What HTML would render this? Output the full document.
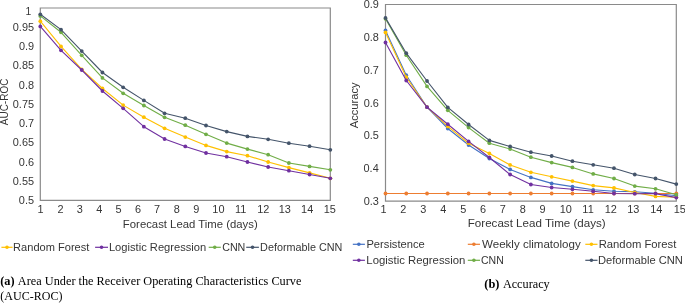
<!DOCTYPE html>
<html><head><meta charset="utf-8"><style>
html,body{margin:0;padding:0;background:#fff;}
body{width:685px;height:303px;overflow:hidden;position:relative;font-family:"Liberation Sans", sans-serif;}
svg{position:absolute;left:0;top:0;display:block;will-change:transform;}
</style></head><body>
<svg width="685" height="303" viewBox="0 0 685 303">
<path d="M40.3,8.0 H330.3 V200.4 H40.3 Z" fill="none" stroke="#8a8a8a" stroke-width="1.2"/>
<polyline points="40.30,21.20 61.01,46.40 81.73,69.30 102.44,88.50 123.16,105.10 143.87,117.20 164.59,128.30 185.30,137.10 206.01,145.40 226.73,151.60 247.44,155.70 268.16,162.00 288.87,167.60 309.59,172.90 330.30,178.30" fill="none" stroke="#FFC000" stroke-width="1.1" stroke-linejoin="round"/>
<circle cx="40.30" cy="21.20" r="1.9" fill="#FFC000"/>
<circle cx="61.01" cy="46.40" r="1.9" fill="#FFC000"/>
<circle cx="81.73" cy="69.30" r="1.9" fill="#FFC000"/>
<circle cx="102.44" cy="88.50" r="1.9" fill="#FFC000"/>
<circle cx="123.16" cy="105.10" r="1.9" fill="#FFC000"/>
<circle cx="143.87" cy="117.20" r="1.9" fill="#FFC000"/>
<circle cx="164.59" cy="128.30" r="1.9" fill="#FFC000"/>
<circle cx="185.30" cy="137.10" r="1.9" fill="#FFC000"/>
<circle cx="206.01" cy="145.40" r="1.9" fill="#FFC000"/>
<circle cx="226.73" cy="151.60" r="1.9" fill="#FFC000"/>
<circle cx="247.44" cy="155.70" r="1.9" fill="#FFC000"/>
<circle cx="268.16" cy="162.00" r="1.9" fill="#FFC000"/>
<circle cx="288.87" cy="167.60" r="1.9" fill="#FFC000"/>
<circle cx="309.59" cy="172.90" r="1.9" fill="#FFC000"/>
<circle cx="330.30" cy="178.30" r="1.9" fill="#FFC000"/>
<polyline points="40.30,26.40 61.01,50.30 81.73,70.00 102.44,91.00 123.16,108.30 143.87,126.70 164.59,139.00 185.30,146.40 206.01,153.00 226.73,156.70 247.44,162.00 268.16,167.00 288.87,170.70 309.59,174.50 330.30,178.30" fill="none" stroke="#7030A0" stroke-width="1.1" stroke-linejoin="round"/>
<circle cx="40.30" cy="26.40" r="1.9" fill="#7030A0"/>
<circle cx="61.01" cy="50.30" r="1.9" fill="#7030A0"/>
<circle cx="81.73" cy="70.00" r="1.9" fill="#7030A0"/>
<circle cx="102.44" cy="91.00" r="1.9" fill="#7030A0"/>
<circle cx="123.16" cy="108.30" r="1.9" fill="#7030A0"/>
<circle cx="143.87" cy="126.70" r="1.9" fill="#7030A0"/>
<circle cx="164.59" cy="139.00" r="1.9" fill="#7030A0"/>
<circle cx="185.30" cy="146.40" r="1.9" fill="#7030A0"/>
<circle cx="206.01" cy="153.00" r="1.9" fill="#7030A0"/>
<circle cx="226.73" cy="156.70" r="1.9" fill="#7030A0"/>
<circle cx="247.44" cy="162.00" r="1.9" fill="#7030A0"/>
<circle cx="268.16" cy="167.00" r="1.9" fill="#7030A0"/>
<circle cx="288.87" cy="170.70" r="1.9" fill="#7030A0"/>
<circle cx="309.59" cy="174.50" r="1.9" fill="#7030A0"/>
<circle cx="330.30" cy="178.30" r="1.9" fill="#7030A0"/>
<polyline points="40.30,15.90 61.01,32.30 81.73,55.30 102.44,77.90 123.16,93.30 143.87,105.50 164.59,117.30 185.30,125.20 206.01,134.30 226.73,143.10 247.44,149.10 268.16,154.70 288.87,163.00 309.59,166.40 330.30,169.80" fill="none" stroke="#70AD47" stroke-width="1.1" stroke-linejoin="round"/>
<circle cx="40.30" cy="15.90" r="1.9" fill="#70AD47"/>
<circle cx="61.01" cy="32.30" r="1.9" fill="#70AD47"/>
<circle cx="81.73" cy="55.30" r="1.9" fill="#70AD47"/>
<circle cx="102.44" cy="77.90" r="1.9" fill="#70AD47"/>
<circle cx="123.16" cy="93.30" r="1.9" fill="#70AD47"/>
<circle cx="143.87" cy="105.50" r="1.9" fill="#70AD47"/>
<circle cx="164.59" cy="117.30" r="1.9" fill="#70AD47"/>
<circle cx="185.30" cy="125.20" r="1.9" fill="#70AD47"/>
<circle cx="206.01" cy="134.30" r="1.9" fill="#70AD47"/>
<circle cx="226.73" cy="143.10" r="1.9" fill="#70AD47"/>
<circle cx="247.44" cy="149.10" r="1.9" fill="#70AD47"/>
<circle cx="268.16" cy="154.70" r="1.9" fill="#70AD47"/>
<circle cx="288.87" cy="163.00" r="1.9" fill="#70AD47"/>
<circle cx="309.59" cy="166.40" r="1.9" fill="#70AD47"/>
<circle cx="330.30" cy="169.80" r="1.9" fill="#70AD47"/>
<polyline points="40.30,14.30 61.01,29.60 81.73,51.10 102.44,72.50 123.16,87.30 143.87,100.40 164.59,113.30 185.30,118.20 206.01,125.50 226.73,131.60 247.44,136.40 268.16,139.30 288.87,143.20 309.59,146.20 330.30,149.80" fill="none" stroke="#44546A" stroke-width="1.1" stroke-linejoin="round"/>
<circle cx="40.30" cy="14.30" r="1.9" fill="#44546A"/>
<circle cx="61.01" cy="29.60" r="1.9" fill="#44546A"/>
<circle cx="81.73" cy="51.10" r="1.9" fill="#44546A"/>
<circle cx="102.44" cy="72.50" r="1.9" fill="#44546A"/>
<circle cx="123.16" cy="87.30" r="1.9" fill="#44546A"/>
<circle cx="143.87" cy="100.40" r="1.9" fill="#44546A"/>
<circle cx="164.59" cy="113.30" r="1.9" fill="#44546A"/>
<circle cx="185.30" cy="118.20" r="1.9" fill="#44546A"/>
<circle cx="206.01" cy="125.50" r="1.9" fill="#44546A"/>
<circle cx="226.73" cy="131.60" r="1.9" fill="#44546A"/>
<circle cx="247.44" cy="136.40" r="1.9" fill="#44546A"/>
<circle cx="268.16" cy="139.30" r="1.9" fill="#44546A"/>
<circle cx="288.87" cy="143.20" r="1.9" fill="#44546A"/>
<circle cx="309.59" cy="146.20" r="1.9" fill="#44546A"/>
<circle cx="330.30" cy="149.80" r="1.9" fill="#44546A"/>
<text x="25.52" y="15.20" font-family="&quot;Liberation Sans&quot;, sans-serif" font-size="10.4" fill="#363636" textLength="5.75" lengthAdjust="spacingAndGlyphs">1</text>
<text x="12.80" y="30.94" font-family="&quot;Liberation Sans&quot;, sans-serif" font-size="10.4" fill="#363636" textLength="21.25" lengthAdjust="spacingAndGlyphs">0.95</text>
<text x="18.91" y="50.18" font-family="&quot;Liberation Sans&quot;, sans-serif" font-size="10.4" fill="#363636" textLength="15.18" lengthAdjust="spacingAndGlyphs">0.9</text>
<text x="12.80" y="69.42" font-family="&quot;Liberation Sans&quot;, sans-serif" font-size="10.4" fill="#363636" textLength="21.25" lengthAdjust="spacingAndGlyphs">0.85</text>
<text x="18.86" y="88.66" font-family="&quot;Liberation Sans&quot;, sans-serif" font-size="10.4" fill="#363636" textLength="15.18" lengthAdjust="spacingAndGlyphs">0.8</text>
<text x="12.80" y="107.90" font-family="&quot;Liberation Sans&quot;, sans-serif" font-size="10.4" fill="#363636" textLength="21.25" lengthAdjust="spacingAndGlyphs">0.75</text>
<text x="18.97" y="127.14" font-family="&quot;Liberation Sans&quot;, sans-serif" font-size="10.4" fill="#363636" textLength="15.18" lengthAdjust="spacingAndGlyphs">0.7</text>
<text x="12.80" y="146.38" font-family="&quot;Liberation Sans&quot;, sans-serif" font-size="10.4" fill="#363636" textLength="21.25" lengthAdjust="spacingAndGlyphs">0.65</text>
<text x="18.86" y="165.62" font-family="&quot;Liberation Sans&quot;, sans-serif" font-size="10.4" fill="#363636" textLength="15.18" lengthAdjust="spacingAndGlyphs">0.6</text>
<text x="12.80" y="184.86" font-family="&quot;Liberation Sans&quot;, sans-serif" font-size="10.4" fill="#363636" textLength="21.25" lengthAdjust="spacingAndGlyphs">0.55</text>
<text x="18.86" y="204.10" font-family="&quot;Liberation Sans&quot;, sans-serif" font-size="10.4" fill="#363636" textLength="15.18" lengthAdjust="spacingAndGlyphs">0.5</text>
<text x="37.61" y="213.10" font-family="&quot;Liberation Sans&quot;, sans-serif" font-size="10.4" fill="#363636" textLength="6.07" lengthAdjust="spacingAndGlyphs">1</text>
<text x="57.47" y="213.10" font-family="&quot;Liberation Sans&quot;, sans-serif" font-size="10.4" fill="#363636" textLength="6.07" lengthAdjust="spacingAndGlyphs">2</text>
<text x="76.87" y="213.10" font-family="&quot;Liberation Sans&quot;, sans-serif" font-size="10.4" fill="#363636" textLength="6.07" lengthAdjust="spacingAndGlyphs">3</text>
<text x="96.22" y="213.10" font-family="&quot;Liberation Sans&quot;, sans-serif" font-size="10.4" fill="#363636" textLength="6.07" lengthAdjust="spacingAndGlyphs">4</text>
<text x="115.57" y="213.10" font-family="&quot;Liberation Sans&quot;, sans-serif" font-size="10.4" fill="#363636" textLength="6.07" lengthAdjust="spacingAndGlyphs">5</text>
<text x="134.92" y="213.10" font-family="&quot;Liberation Sans&quot;, sans-serif" font-size="10.4" fill="#363636" textLength="6.07" lengthAdjust="spacingAndGlyphs">6</text>
<text x="154.07" y="213.10" font-family="&quot;Liberation Sans&quot;, sans-serif" font-size="10.4" fill="#363636" textLength="6.07" lengthAdjust="spacingAndGlyphs">7</text>
<text x="173.74" y="213.10" font-family="&quot;Liberation Sans&quot;, sans-serif" font-size="10.4" fill="#363636" textLength="6.07" lengthAdjust="spacingAndGlyphs">8</text>
<text x="193.17" y="213.10" font-family="&quot;Liberation Sans&quot;, sans-serif" font-size="10.4" fill="#363636" textLength="6.07" lengthAdjust="spacingAndGlyphs">9</text>
<text x="212.32" y="213.10" font-family="&quot;Liberation Sans&quot;, sans-serif" font-size="10.4" fill="#363636" textLength="12.15" lengthAdjust="spacingAndGlyphs">10</text>
<text x="235.09" y="213.10" font-family="&quot;Liberation Sans&quot;, sans-serif" font-size="10.4" fill="#363636" textLength="11.34" lengthAdjust="spacingAndGlyphs">11</text>
<text x="257.20" y="213.10" font-family="&quot;Liberation Sans&quot;, sans-serif" font-size="10.4" fill="#363636" textLength="12.15" lengthAdjust="spacingAndGlyphs">12</text>
<text x="278.65" y="213.10" font-family="&quot;Liberation Sans&quot;, sans-serif" font-size="10.4" fill="#363636" textLength="12.15" lengthAdjust="spacingAndGlyphs">13</text>
<text x="301.09" y="213.10" font-family="&quot;Liberation Sans&quot;, sans-serif" font-size="10.4" fill="#363636" textLength="12.15" lengthAdjust="spacingAndGlyphs">14</text>
<text x="323.65" y="213.10" font-family="&quot;Liberation Sans&quot;, sans-serif" font-size="10.4" fill="#363636" textLength="12.15" lengthAdjust="spacingAndGlyphs">15</text>
<text x="122.89" y="227.60" font-family="&quot;Liberation Sans&quot;, sans-serif" font-size="10.6" fill="#363636" textLength="134.83" lengthAdjust="spacingAndGlyphs">Forecast Lead Time (days)</text>
<text transform="translate(8.20,125.20) rotate(-90)" x="0" y="0" font-family="&quot;Liberation Sans&quot;, sans-serif" font-size="10.4" fill="#363636" textLength="46.57" lengthAdjust="spacingAndGlyphs">AUC-ROC</text>
<line x1="1.4" y1="247.3" x2="12.6" y2="247.3" stroke="#FFC000" stroke-width="1.2"/><circle cx="7.00" cy="247.3" r="1.8" fill="#FFC000"/>
<text x="13.11" y="250.50" font-family="&quot;Liberation Sans&quot;, sans-serif" font-size="10.2" fill="#363636" textLength="76.26" lengthAdjust="spacingAndGlyphs">Random Forest</text>
<line x1="95.1" y1="247.3" x2="108.0" y2="247.3" stroke="#7030A0" stroke-width="1.2"/><circle cx="101.55" cy="247.3" r="1.8" fill="#7030A0"/>
<text x="108.91" y="250.50" font-family="&quot;Liberation Sans&quot;, sans-serif" font-size="10.2" fill="#363636" textLength="97.34" lengthAdjust="spacingAndGlyphs">Logistic Regression</text>
<line x1="208.7" y1="247.3" x2="220.8" y2="247.3" stroke="#70AD47" stroke-width="1.2"/><circle cx="214.75" cy="247.3" r="1.8" fill="#70AD47"/>
<text x="222.16" y="250.50" font-family="&quot;Liberation Sans&quot;, sans-serif" font-size="10.2" fill="#363636" textLength="23.21" lengthAdjust="spacingAndGlyphs">CNN</text>
<line x1="246.2" y1="247.3" x2="258.9" y2="247.3" stroke="#44546A" stroke-width="1.2"/><circle cx="252.55" cy="247.3" r="1.8" fill="#44546A"/>
<text x="260.14" y="250.50" font-family="&quot;Liberation Sans&quot;, sans-serif" font-size="10.2" fill="#363636" textLength="82.27" lengthAdjust="spacingAndGlyphs">Deformable CNN</text>
<text x="0.15" y="284.50" font-family="&quot;Liberation Serif&quot;, serif" font-size="11.6" font-weight="bold" fill="#000" textLength="14.36" lengthAdjust="spacingAndGlyphs">(a)</text>
<text x="17.88" y="284.50" font-family="&quot;Liberation Serif&quot;, serif" font-size="11.6" fill="#000" textLength="283.56" lengthAdjust="spacingAndGlyphs">Area Under the Receiver Operating Characteristics Curve</text>
<text x="0.36" y="299.60" font-family="&quot;Liberation Serif&quot;, serif" font-size="11.6" fill="#000" textLength="62.14" lengthAdjust="spacingAndGlyphs">(AUC-ROC)</text>
<path d="M385.5,4.5 H676.3 V201.2 H385.5 Z" fill="none" stroke="#8a8a8a" stroke-width="1.2"/>
<polyline points="385.50,30.50 406.27,75.20 427.04,107.20 447.81,128.50 468.59,145.00 489.36,158.50 510.13,169.40 530.90,177.40 551.67,183.40 572.44,186.60 593.21,189.80 613.99,191.20 634.76,191.80 655.53,193.30 676.30,195.80" fill="none" stroke="#4472C4" stroke-width="1.1" stroke-linejoin="round"/>
<circle cx="385.50" cy="30.50" r="1.9" fill="#4472C4"/>
<circle cx="406.27" cy="75.20" r="1.9" fill="#4472C4"/>
<circle cx="427.04" cy="107.20" r="1.9" fill="#4472C4"/>
<circle cx="447.81" cy="128.50" r="1.9" fill="#4472C4"/>
<circle cx="468.59" cy="145.00" r="1.9" fill="#4472C4"/>
<circle cx="489.36" cy="158.50" r="1.9" fill="#4472C4"/>
<circle cx="510.13" cy="169.40" r="1.9" fill="#4472C4"/>
<circle cx="530.90" cy="177.40" r="1.9" fill="#4472C4"/>
<circle cx="551.67" cy="183.40" r="1.9" fill="#4472C4"/>
<circle cx="572.44" cy="186.60" r="1.9" fill="#4472C4"/>
<circle cx="593.21" cy="189.80" r="1.9" fill="#4472C4"/>
<circle cx="613.99" cy="191.20" r="1.9" fill="#4472C4"/>
<circle cx="634.76" cy="191.80" r="1.9" fill="#4472C4"/>
<circle cx="655.53" cy="193.30" r="1.9" fill="#4472C4"/>
<circle cx="676.30" cy="195.80" r="1.9" fill="#4472C4"/>
<polyline points="385.50,193.50 406.27,193.50 427.04,193.50 447.81,193.50 468.59,193.50 489.36,193.50 510.13,193.50 530.90,193.50 551.67,193.50 572.44,193.50 593.21,193.50 613.99,193.50 634.76,193.50 655.53,193.50 676.30,193.50" fill="none" stroke="#ED7D31" stroke-width="1.1" stroke-linejoin="round"/>
<circle cx="385.50" cy="193.50" r="1.9" fill="#ED7D31"/>
<circle cx="406.27" cy="193.50" r="1.9" fill="#ED7D31"/>
<circle cx="427.04" cy="193.50" r="1.9" fill="#ED7D31"/>
<circle cx="447.81" cy="193.50" r="1.9" fill="#ED7D31"/>
<circle cx="468.59" cy="193.50" r="1.9" fill="#ED7D31"/>
<circle cx="489.36" cy="193.50" r="1.9" fill="#ED7D31"/>
<circle cx="510.13" cy="193.50" r="1.9" fill="#ED7D31"/>
<circle cx="530.90" cy="193.50" r="1.9" fill="#ED7D31"/>
<circle cx="551.67" cy="193.50" r="1.9" fill="#ED7D31"/>
<circle cx="572.44" cy="193.50" r="1.9" fill="#ED7D31"/>
<circle cx="593.21" cy="193.50" r="1.9" fill="#ED7D31"/>
<circle cx="613.99" cy="193.50" r="1.9" fill="#ED7D31"/>
<circle cx="634.76" cy="193.50" r="1.9" fill="#ED7D31"/>
<circle cx="655.53" cy="193.50" r="1.9" fill="#ED7D31"/>
<circle cx="676.30" cy="193.50" r="1.9" fill="#ED7D31"/>
<polyline points="385.50,32.40 406.27,77.20 427.04,107.20 447.81,126.40 468.59,143.20 489.36,153.40 510.13,164.90 530.90,172.30 551.67,176.80 572.44,181.10 593.21,185.60 613.99,187.90 634.76,192.50 655.53,196.40 676.30,197.30" fill="none" stroke="#FFC000" stroke-width="1.1" stroke-linejoin="round"/>
<circle cx="385.50" cy="32.40" r="1.9" fill="#FFC000"/>
<circle cx="406.27" cy="77.20" r="1.9" fill="#FFC000"/>
<circle cx="427.04" cy="107.20" r="1.9" fill="#FFC000"/>
<circle cx="447.81" cy="126.40" r="1.9" fill="#FFC000"/>
<circle cx="468.59" cy="143.20" r="1.9" fill="#FFC000"/>
<circle cx="489.36" cy="153.40" r="1.9" fill="#FFC000"/>
<circle cx="510.13" cy="164.90" r="1.9" fill="#FFC000"/>
<circle cx="530.90" cy="172.30" r="1.9" fill="#FFC000"/>
<circle cx="551.67" cy="176.80" r="1.9" fill="#FFC000"/>
<circle cx="572.44" cy="181.10" r="1.9" fill="#FFC000"/>
<circle cx="593.21" cy="185.60" r="1.9" fill="#FFC000"/>
<circle cx="613.99" cy="187.90" r="1.9" fill="#FFC000"/>
<circle cx="634.76" cy="192.50" r="1.9" fill="#FFC000"/>
<circle cx="655.53" cy="196.40" r="1.9" fill="#FFC000"/>
<circle cx="676.30" cy="197.30" r="1.9" fill="#FFC000"/>
<polyline points="385.50,42.50 406.27,80.50 427.04,107.20 447.81,124.20 468.59,141.40 489.36,157.50 510.13,174.50 530.90,184.50 551.67,187.50 572.44,189.30 593.21,191.30 613.99,193.50 634.76,193.70 655.53,193.60 676.30,197.60" fill="none" stroke="#7030A0" stroke-width="1.1" stroke-linejoin="round"/>
<circle cx="385.50" cy="42.50" r="1.9" fill="#7030A0"/>
<circle cx="406.27" cy="80.50" r="1.9" fill="#7030A0"/>
<circle cx="427.04" cy="107.20" r="1.9" fill="#7030A0"/>
<circle cx="447.81" cy="124.20" r="1.9" fill="#7030A0"/>
<circle cx="468.59" cy="141.40" r="1.9" fill="#7030A0"/>
<circle cx="489.36" cy="157.50" r="1.9" fill="#7030A0"/>
<circle cx="510.13" cy="174.50" r="1.9" fill="#7030A0"/>
<circle cx="530.90" cy="184.50" r="1.9" fill="#7030A0"/>
<circle cx="551.67" cy="187.50" r="1.9" fill="#7030A0"/>
<circle cx="572.44" cy="189.30" r="1.9" fill="#7030A0"/>
<circle cx="593.21" cy="191.30" r="1.9" fill="#7030A0"/>
<circle cx="613.99" cy="193.50" r="1.9" fill="#7030A0"/>
<circle cx="634.76" cy="193.70" r="1.9" fill="#7030A0"/>
<circle cx="655.53" cy="193.60" r="1.9" fill="#7030A0"/>
<circle cx="676.30" cy="197.60" r="1.9" fill="#7030A0"/>
<polyline points="385.50,18.80 406.27,55.20 427.04,86.40 447.81,110.30 468.59,127.60 489.36,143.20 510.13,149.00 530.90,157.20 551.67,162.60 572.44,167.40 593.21,173.90 613.99,178.50 634.76,186.10 655.53,188.80 676.30,194.70" fill="none" stroke="#70AD47" stroke-width="1.1" stroke-linejoin="round"/>
<circle cx="385.50" cy="18.80" r="1.9" fill="#70AD47"/>
<circle cx="406.27" cy="55.20" r="1.9" fill="#70AD47"/>
<circle cx="427.04" cy="86.40" r="1.9" fill="#70AD47"/>
<circle cx="447.81" cy="110.30" r="1.9" fill="#70AD47"/>
<circle cx="468.59" cy="127.60" r="1.9" fill="#70AD47"/>
<circle cx="489.36" cy="143.20" r="1.9" fill="#70AD47"/>
<circle cx="510.13" cy="149.00" r="1.9" fill="#70AD47"/>
<circle cx="530.90" cy="157.20" r="1.9" fill="#70AD47"/>
<circle cx="551.67" cy="162.60" r="1.9" fill="#70AD47"/>
<circle cx="572.44" cy="167.40" r="1.9" fill="#70AD47"/>
<circle cx="593.21" cy="173.90" r="1.9" fill="#70AD47"/>
<circle cx="613.99" cy="178.50" r="1.9" fill="#70AD47"/>
<circle cx="634.76" cy="186.10" r="1.9" fill="#70AD47"/>
<circle cx="655.53" cy="188.80" r="1.9" fill="#70AD47"/>
<circle cx="676.30" cy="194.70" r="1.9" fill="#70AD47"/>
<polyline points="385.50,17.90 406.27,53.20 427.04,81.00 447.81,107.40 468.59,124.50 489.36,140.40 510.13,146.50 530.90,152.20 551.67,156.00 572.44,161.20 593.21,164.80 613.99,168.20 634.76,174.50 655.53,178.50 676.30,184.10" fill="none" stroke="#44546A" stroke-width="1.1" stroke-linejoin="round"/>
<circle cx="385.50" cy="17.90" r="1.9" fill="#44546A"/>
<circle cx="406.27" cy="53.20" r="1.9" fill="#44546A"/>
<circle cx="427.04" cy="81.00" r="1.9" fill="#44546A"/>
<circle cx="447.81" cy="107.40" r="1.9" fill="#44546A"/>
<circle cx="468.59" cy="124.50" r="1.9" fill="#44546A"/>
<circle cx="489.36" cy="140.40" r="1.9" fill="#44546A"/>
<circle cx="510.13" cy="146.50" r="1.9" fill="#44546A"/>
<circle cx="530.90" cy="152.20" r="1.9" fill="#44546A"/>
<circle cx="551.67" cy="156.00" r="1.9" fill="#44546A"/>
<circle cx="572.44" cy="161.20" r="1.9" fill="#44546A"/>
<circle cx="593.21" cy="164.80" r="1.9" fill="#44546A"/>
<circle cx="613.99" cy="168.20" r="1.9" fill="#44546A"/>
<circle cx="634.76" cy="174.50" r="1.9" fill="#44546A"/>
<circle cx="655.53" cy="178.50" r="1.9" fill="#44546A"/>
<circle cx="676.30" cy="184.10" r="1.9" fill="#44546A"/>
<text x="363.71" y="8.20" font-family="&quot;Liberation Sans&quot;, sans-serif" font-size="10.4" fill="#363636" textLength="15.18" lengthAdjust="spacingAndGlyphs">0.9</text>
<text x="363.66" y="40.98" font-family="&quot;Liberation Sans&quot;, sans-serif" font-size="10.4" fill="#363636" textLength="15.18" lengthAdjust="spacingAndGlyphs">0.8</text>
<text x="363.77" y="73.77" font-family="&quot;Liberation Sans&quot;, sans-serif" font-size="10.4" fill="#363636" textLength="15.18" lengthAdjust="spacingAndGlyphs">0.7</text>
<text x="363.66" y="106.55" font-family="&quot;Liberation Sans&quot;, sans-serif" font-size="10.4" fill="#363636" textLength="15.18" lengthAdjust="spacingAndGlyphs">0.6</text>
<text x="363.66" y="139.33" font-family="&quot;Liberation Sans&quot;, sans-serif" font-size="10.4" fill="#363636" textLength="15.18" lengthAdjust="spacingAndGlyphs">0.5</text>
<text x="363.55" y="172.12" font-family="&quot;Liberation Sans&quot;, sans-serif" font-size="10.4" fill="#363636" textLength="15.18" lengthAdjust="spacingAndGlyphs">0.4</text>
<text x="363.66" y="204.90" font-family="&quot;Liberation Sans&quot;, sans-serif" font-size="10.4" fill="#363636" textLength="15.18" lengthAdjust="spacingAndGlyphs">0.3</text>
<text x="380.41" y="213.00" font-family="&quot;Liberation Sans&quot;, sans-serif" font-size="10.4" fill="#363636" textLength="6.07" lengthAdjust="spacingAndGlyphs">1</text>
<text x="400.37" y="213.00" font-family="&quot;Liberation Sans&quot;, sans-serif" font-size="10.4" fill="#363636" textLength="6.07" lengthAdjust="spacingAndGlyphs">2</text>
<text x="420.37" y="213.00" font-family="&quot;Liberation Sans&quot;, sans-serif" font-size="10.4" fill="#363636" textLength="6.07" lengthAdjust="spacingAndGlyphs">3</text>
<text x="440.22" y="213.00" font-family="&quot;Liberation Sans&quot;, sans-serif" font-size="10.4" fill="#363636" textLength="6.07" lengthAdjust="spacingAndGlyphs">4</text>
<text x="460.17" y="213.00" font-family="&quot;Liberation Sans&quot;, sans-serif" font-size="10.4" fill="#363636" textLength="6.07" lengthAdjust="spacingAndGlyphs">5</text>
<text x="480.02" y="213.00" font-family="&quot;Liberation Sans&quot;, sans-serif" font-size="10.4" fill="#363636" textLength="6.07" lengthAdjust="spacingAndGlyphs">6</text>
<text x="499.77" y="213.00" font-family="&quot;Liberation Sans&quot;, sans-serif" font-size="10.4" fill="#363636" textLength="6.07" lengthAdjust="spacingAndGlyphs">7</text>
<text x="519.74" y="213.00" font-family="&quot;Liberation Sans&quot;, sans-serif" font-size="10.4" fill="#363636" textLength="6.07" lengthAdjust="spacingAndGlyphs">8</text>
<text x="539.57" y="213.00" font-family="&quot;Liberation Sans&quot;, sans-serif" font-size="10.4" fill="#363636" textLength="6.07" lengthAdjust="spacingAndGlyphs">9</text>
<text x="559.72" y="213.00" font-family="&quot;Liberation Sans&quot;, sans-serif" font-size="10.4" fill="#363636" textLength="12.15" lengthAdjust="spacingAndGlyphs">10</text>
<text x="582.39" y="213.00" font-family="&quot;Liberation Sans&quot;, sans-serif" font-size="10.4" fill="#363636" textLength="11.34" lengthAdjust="spacingAndGlyphs">11</text>
<text x="604.80" y="213.00" font-family="&quot;Liberation Sans&quot;, sans-serif" font-size="10.4" fill="#363636" textLength="12.15" lengthAdjust="spacingAndGlyphs">12</text>
<text x="627.15" y="213.00" font-family="&quot;Liberation Sans&quot;, sans-serif" font-size="10.4" fill="#363636" textLength="12.15" lengthAdjust="spacingAndGlyphs">13</text>
<text x="650.19" y="213.00" font-family="&quot;Liberation Sans&quot;, sans-serif" font-size="10.4" fill="#363636" textLength="12.15" lengthAdjust="spacingAndGlyphs">14</text>
<text x="673.75" y="213.00" font-family="&quot;Liberation Sans&quot;, sans-serif" font-size="10.4" fill="#363636" textLength="12.15" lengthAdjust="spacingAndGlyphs">15</text>
<text x="467.77" y="226.90" font-family="&quot;Liberation Sans&quot;, sans-serif" font-size="10.6" fill="#363636" textLength="137.97" lengthAdjust="spacingAndGlyphs">Forecast Lead Time (days)</text>
<text transform="translate(357.80,128.30) rotate(-90)" x="0" y="0" font-family="&quot;Liberation Sans&quot;, sans-serif" font-size="10.4" fill="#363636" textLength="45.83" lengthAdjust="spacingAndGlyphs">Accuracy</text>
<line x1="352.8" y1="244.3" x2="364.9" y2="244.3" stroke="#4472C4" stroke-width="1.2"/><circle cx="358.85" cy="244.3" r="1.8" fill="#4472C4"/>
<text x="366.41" y="247.50" font-family="&quot;Liberation Sans&quot;, sans-serif" font-size="10.2" fill="#363636" textLength="58.39" lengthAdjust="spacingAndGlyphs">Persistence</text>
<line x1="467.8" y1="244.3" x2="480.0" y2="244.3" stroke="#ED7D31" stroke-width="1.2"/><circle cx="473.90" cy="244.3" r="1.8" fill="#ED7D31"/>
<text x="482.04" y="247.50" font-family="&quot;Liberation Sans&quot;, sans-serif" font-size="10.2" fill="#363636" textLength="98.66" lengthAdjust="spacingAndGlyphs">Weekly climatology</text>
<line x1="585.3" y1="244.3" x2="597.5" y2="244.3" stroke="#FFC000" stroke-width="1.2"/><circle cx="591.40" cy="244.3" r="1.8" fill="#FFC000"/>
<text x="598.70" y="247.50" font-family="&quot;Liberation Sans&quot;, sans-serif" font-size="10.2" fill="#363636" textLength="77.68" lengthAdjust="spacingAndGlyphs">Random Forest</text>
<line x1="352.8" y1="260.3" x2="364.9" y2="260.3" stroke="#7030A0" stroke-width="1.2"/><circle cx="358.85" cy="260.3" r="1.8" fill="#7030A0"/>
<text x="366.39" y="263.60" font-family="&quot;Liberation Sans&quot;, sans-serif" font-size="10.2" fill="#363636" textLength="99.07" lengthAdjust="spacingAndGlyphs">Logistic Regression</text>
<line x1="467.8" y1="260.3" x2="480.0" y2="260.3" stroke="#70AD47" stroke-width="1.2"/><circle cx="473.90" cy="260.3" r="1.8" fill="#70AD47"/>
<text x="480.97" y="263.60" font-family="&quot;Liberation Sans&quot;, sans-serif" font-size="10.2" fill="#363636" textLength="22.78" lengthAdjust="spacingAndGlyphs">CNN</text>
<line x1="585.3" y1="260.3" x2="597.5" y2="260.3" stroke="#44546A" stroke-width="1.2"/><circle cx="591.40" cy="260.3" r="1.8" fill="#44546A"/>
<text x="598.01" y="263.60" font-family="&quot;Liberation Sans&quot;, sans-serif" font-size="10.2" fill="#363636" textLength="84.92" lengthAdjust="spacingAndGlyphs">Deformable CNN</text>
<text x="484.34" y="287.80" font-family="&quot;Liberation Serif&quot;, serif" font-size="12.2" font-weight="bold" fill="#000" textLength="15.18" lengthAdjust="spacingAndGlyphs">(b)</text>
<text x="502.88" y="287.80" font-family="&quot;Liberation Serif&quot;, serif" font-size="12.2" fill="#000" textLength="46.79" lengthAdjust="spacingAndGlyphs">Accuracy</text>
</svg>
</body></html>
